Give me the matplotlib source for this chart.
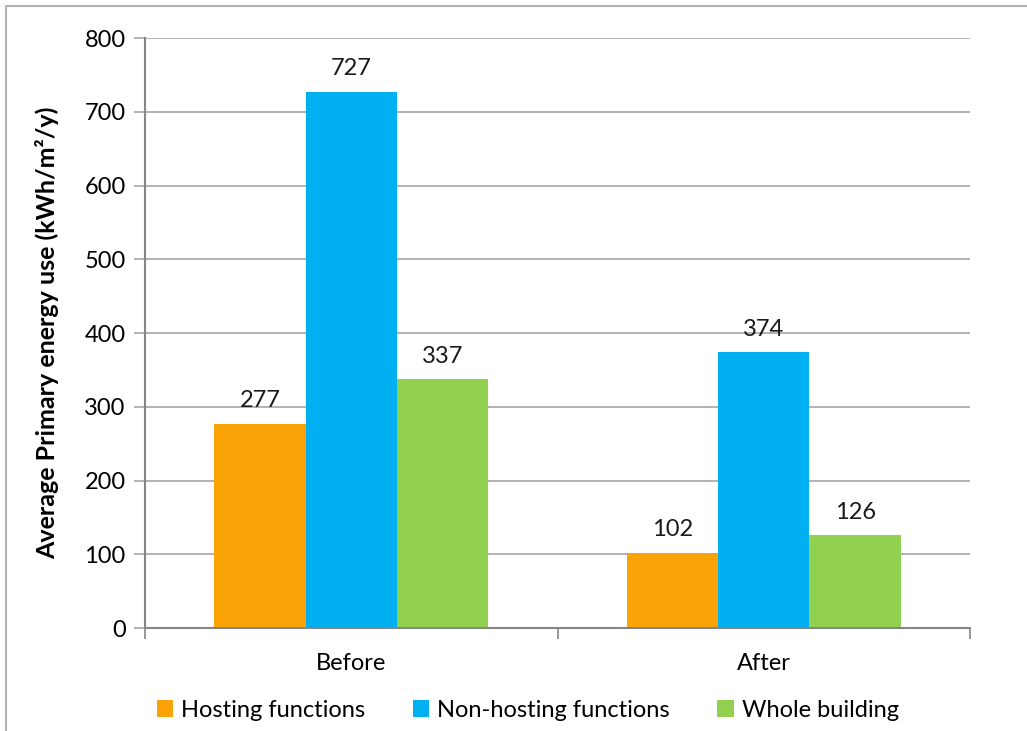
import matplotlib
matplotlib.use("Agg")
import matplotlib.pyplot as plt
import numpy as np
from matplotlib.patches import Rectangle

plt.rcParams['font.family'] = ['Lato', 'DejaVu Sans']

periods = ['Before', 'After']
series = ['Hosting functions', 'Non-hosting functions', 'Whole building']
hosting = [277, 102]
non_hosting = [727, 374]
whole = [337, 126]
colors = ['#FAA307', '#00B0F0', '#92D050']

fig = plt.figure(figsize=(10.27, 7.31), dpi=100)
ax = fig.add_axes([0.1412, 0.1409, 0.8033, 0.8071])

# outer chart frame, cut off at the right and bottom edges
fig.patches.append(Rectangle((6 / 1027, -0.05), 1.1, 1 - 6 / 731 + 0.05,
                             transform=fig.transFigure, fill=False,
                             edgecolor='#B3B3B3', linewidth=1.5))

x = np.arange(len(periods))
w = 0.2215
for i, (vals, c, name) in enumerate(zip([hosting, non_hosting, whole], colors, series)):
    pos = x + (i - 1) * w
    ax.bar(pos, vals, width=w, color=c, label=name, zorder=2)
    for p, v in zip(pos, vals):
        ax.annotate(str(v), (p, v), xytext=(0, 9), textcoords='offset points',
                    ha='center', va='bottom', fontsize=17, color='#1A1A1A')

ax.set_xlim(-0.5, 1.5)
ax.set_ylim(0, 800)
ax.set_yticks(range(0, 801, 100))
ax.yaxis.grid(True, color='#A6A6A6', linewidth=1.2, zorder=0)
ax.set_axisbelow(True)
ax.set_xticks([-0.5, 0.5, 1.5])
ax.set_xticks(x, minor=True)
ax.set_xticklabels([])
ax.set_xticklabels(periods, minor=True)
ax.tick_params(axis='x', which='major', length=8, width=1.2, color='#868686')
ax.tick_params(axis='x', which='minor', length=0, pad=18, labelsize=17)
ax.tick_params(axis='y', length=8, width=1.2, color='#A6A6A6', labelsize=17, pad=6)

for s in ['top', 'right']:
    ax.spines[s].set_visible(False)
for s in ['left', 'bottom']:
    ax.spines[s].set_color('#868686')
    ax.spines[s].set_linewidth(1.5)

ax.set_ylabel('Average Primary energy use (kWh/m²/y)', fontsize=18,
              fontweight='bold', labelpad=18)

fig.legend(loc='lower center', bbox_to_anchor=(0.514, -0.015), ncol=3, frameon=False,
           fontsize=17, handlelength=0.7, handleheight=0.7, handletextpad=0.35,
           columnspacing=2.0)

fig.savefig('out.png', dpi=100)
